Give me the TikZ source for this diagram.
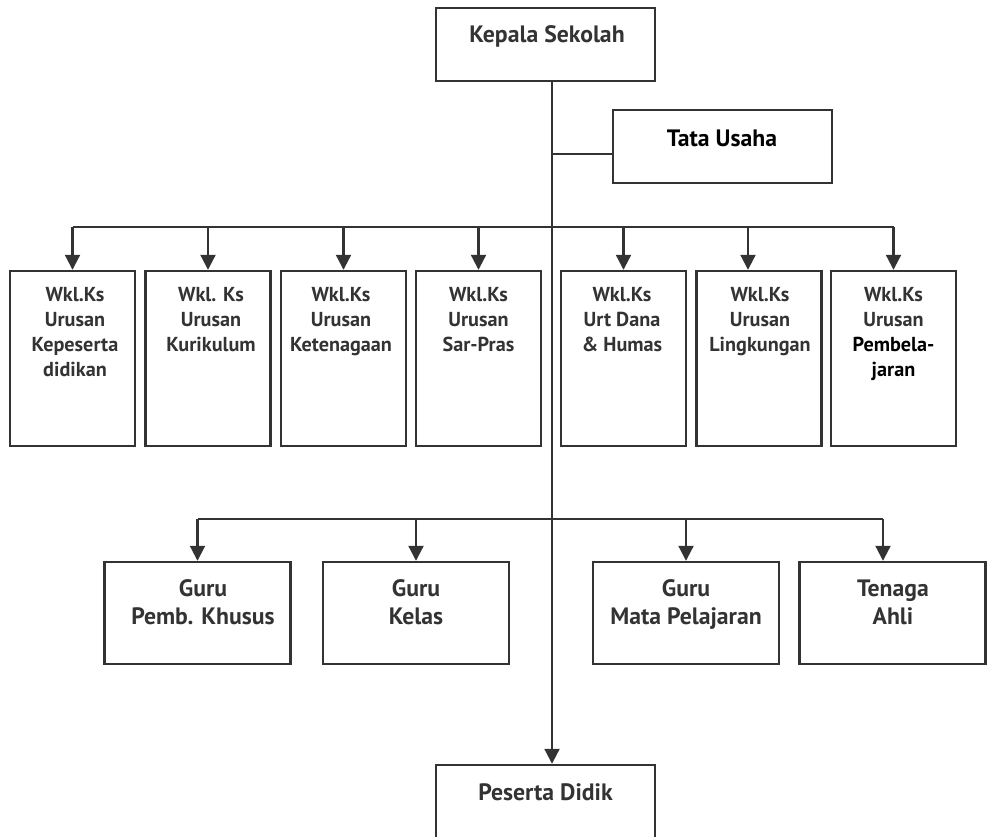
\documentclass[tikz,border=0pt]{standalone}
\usepackage{fontspec}
\setmainfont{PT Sans}
\usetikzlibrary{arrows.meta}

\definecolor{ink}{HTML}{333333}

\tikzset{
  orgline/.style={draw=ink, line width=1.2pt},
  orgarrow/.style={orgline, -{Triangle[width=8.5pt,length=8.5pt]}},
  orgbox/.style={draw=ink, line width=1.4pt, inner sep=0pt},
  topbox/.style={orgbox, minimum width=4.38cm, minimum height=1.46cm},
  wklbox/.style={orgbox, minimum width=2.5cm, minimum height=3.5cm},
  gurubox/.style={orgbox, minimum width=3.72cm, minimum height=2.04cm},
  toptext/.style={anchor=base, inner sep=0pt, text=ink, font=\fontsize{13.5}{15}\selectfont\bfseries},
  wkltext/.style={anchor=base, align=center, inner sep=0pt, text=ink, font=\fontsize{11.5}{14.2}\selectfont\bfseries},
  gurutext/.style={anchor=base, align=center, inner sep=0pt, text=ink, font=\fontsize{13.5}{15.4}\selectfont\bfseries}
}

\begin{document}
\begin{tikzpicture}[x=0.02cm, y=-0.02cm]
                        \clip (0,0) rectangle (987,836);

                        % Drawing box Kepala Sekolah
                        \node [topbox] (kepsek) at (545.5,44.5) {};%
                        \node [toptext] (kepsek-t) at (547,42) {Kepala Sekolah};%

                        % Drawing box Tata Usaha
                        \node [topbox] (tu) at (722.5,146.5) {};%
                        \node [toptext, text=black] (tu-t) at (722,146) {Tata Usaha};%

                        % Drawing boxes Wkl.Ks
                        \node [wklbox] (wkpd) at (72.5,358.5) {};%
                        \node [wklbox] (wkkur) at (208,358.5) {};%
                        \node [wklbox] (wktng) at (343.5,358.5) {};%
                        \node [wklbox] (wksarpras) at (478.5,358.5) {};%
                        \node [wklbox] (wkhumas) at (623.5,358.5) {};%
                        \node [wklbox] (wkling) at (759,358.5) {};%
                        \node [wklbox] (wkpemb) at (893.5,358.5) {};%

                        % Marking text Wkl.Ks (base = last line)
                        \node [wkltext] (wkpd-t) at (75,376) {Wkl.Ks\\Urusan\\Kepeserta\\didikan};%
                        \node [wkltext] (wkkur-t) at (211,351) {Wkl. Ks\\Urusan\\Kurikulum};%
                        \node [wkltext] (wktng-t) at (341,351) {Wkl.Ks\\Urusan\\Ketenagaan};%
                        \node [wkltext] (wksarpras-t) at (478.5,351) {Wkl.Ks\\Urusan\\Sar-Pras};%
                        \node [wkltext] (wkhumas-t) at (622,351) {Wkl.Ks\\Urt Dana\\\& Humas};%
                        \node [wkltext] (wkling-t) at (760,351) {Wkl.Ks\\Urusan\\Lingkungan};%
                        \node [wkltext] (wkpemb-t) at (893.5,376) {Wkl.Ks\\Urusan\\\textcolor{black}{Pembela-}\\\textcolor{black}{jaran}};%

                        % Drawing boxes Guru
                        \node [gurubox] (gurupk) at (197.5,613) {};%
                        \node [gurubox] (gurukls) at (416,613) {};%
                        \node [gurubox] (gurumapel) at (686,613) {};%
                        \node [gurubox] (ahli) at (892.5,613) {};%
                        \node [gurutext] (gurupk-t) at (203,624) {Guru\\Pemb. Khusus};%
                        \node [gurutext] (gurukls-t) at (416,624) {Guru\\Kelas};%
                        \node [gurutext] (gurumapel-t) at (686,624) {Guru\\Mata Pelajaran};%
                        \node [gurutext] (ahli-t) at (893,624) {Tenaga\\Ahli};%

                        % Drawing box Peserta Didik
                        \node [topbox] (peserta) at (545.5,801.5) {};%
                        \node [gurutext] (peserta-t) at (545.5,800) {Peserta Didik};%

                        % Drawing trunk line
                        \coordinate (trunk) at (552,0);%
                        \draw [orgarrow] (kepsek.south -| trunk) -- (peserta.north -| trunk);%

                        % Drawing line to Tata Usaha
                        \coordinate (tujoin) at (613,154);%
                        \draw [orgline] (tujoin -| trunk) -- (tujoin);%

                        % Drawing line Wkl.Ks
                        \coordinate (wklbus) at (552,227);%
                        \coordinate (lingtip) at ([xshift=-0.22cm]wkling.north);%
                        \draw [orgline] (wkpd.north |- wklbus) -- (wkpemb.north |- wklbus);%
                        \foreach \n in {wkpd,wkkur,wktng,wksarpras,wkhumas,wkpemb}
                          \draw [orgarrow] (\n.north |- wklbus) -- (\n.north);%
                        \draw [orgarrow] (lingtip |- wklbus) -- (lingtip);%

                        % Drawing line Guru
                        \coordinate (gurubus) at (552,519);%
                        \coordinate (ahlitip) at ([xshift=-0.19cm]ahli.north);%
                        \draw [orgline] (gurupk.north |- gurubus) -- (ahlitip |- gurubus);%
                        \foreach \n in {gurupk,gurukls,gurumapel}
                          \draw [orgarrow] (\n.north |- gurubus) -- (\n.north);%
                        \draw [orgarrow] (ahlitip |- gurubus) -- (ahlitip);%
\end{tikzpicture}
\end{document}
